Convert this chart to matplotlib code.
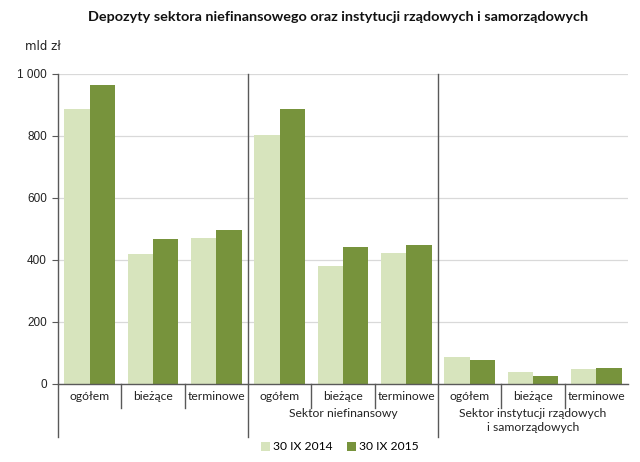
import matplotlib
matplotlib.use("Agg")
import matplotlib.pyplot as plt
from matplotlib.transforms import blended_transform_factory
from matplotlib.patches import Patch

categories = ["ogółem", "bieżące", "terminowe",
              "ogółem", "bieżące", "terminowe",
              "ogółem", "bieżące", "terminowe"]
groups = ["", "Sektor niefinansowy", "Sektor instytucji rządowych\ni samorządowych"]
series_names = ["30 IX 2014", "30 IX 2015"]
values_2014 = [888, 419, 470, 803, 382, 424, 88, 38, 48]
values_2015 = [963, 468, 498, 886, 442, 447, 79, 26, 52]
yticks = [0, 200, 400, 600, 800, 1000]
ytick_labels = ["0", "200", "400", "600", "800", "1 000"]

c_light = "#d7e4bd"
c_dark = "#77933c"
line_c = "#595959"

fig = plt.figure(figsize=(6.4, 4.62), dpi=100)
ax = fig.add_axes([58/640, 78/462, 570/640, 310/462])

x = list(range(len(categories)))
w = 0.4
ax.bar([i - w/2 for i in x], values_2014, width=w, color=c_light, zorder=3)
ax.bar([i + w/2 for i in x], values_2015, width=w, color=c_dark, zorder=3)

ax.set_xlim(-0.5, len(categories) - 0.5)
ax.set_ylim(0, 1000)
ax.set_yticks(yticks)
ax.set_yticklabels(ytick_labels, fontsize=8.5, family="Liberation Sans", color="#222222")
ax.yaxis.grid(True, color="#d9d9d9", linewidth=0.9, zorder=0)
ax.set_axisbelow(True)
ax.tick_params(axis="y", direction="out", length=4, width=0.8, color=line_c, pad=4)
ax.set_xticks([])
for s in ["top", "right", "left"]:
    ax.spines[s].set_visible(False)
ax.spines["bottom"].set_color(line_c)
ax.spines["bottom"].set_linewidth(1.0)
ax.spines["bottom"].set_zorder(4)

tr = blended_transform_factory(ax.transData, ax.transAxes)
low_short = (384 - 408) / 310
low_long = (384 - 437) / 310
for xv in [-0.5, 2.5, 5.5]:
    ax.plot([xv, xv], [1.0, low_long], transform=tr, color=line_c, lw=1.0,
            clip_on=False, zorder=5)
for xv in [0.5, 1.5, 3.5, 4.5, 6.5, 7.5]:
    ax.plot([xv, xv], [0, low_short], transform=tr, color=line_c, lw=1.0,
            clip_on=False, zorder=5)

lab_y = (384 - 396) / 310
for i, c in enumerate(categories):
    ax.text(i, lab_y, c, transform=tr, ha="center", va="center",
            fontsize=8.7, family="Lato", color="#222222")
grp_y = (384 - 408) / 310
for g, name in enumerate(groups):
    if name:
        ax.text(3*g + 1, grp_y, name, transform=tr, ha="center", va="top",
                fontsize=8.7, family="Lato", color="#222222", linespacing=1.3)

fig.text(338/640, 1 - 17/462, "Depozyty sektora niefinansowego oraz instytucji rządowych i samorządowych",
         ha="center", va="center", fontsize=10.4, fontweight="bold", family="Lato", color="#111111")
fig.text(25/640, 1 - 47/462, "mld zł", ha="left", va="center", fontsize=8.5,
         family="Liberation Sans Narrow", color="#222222")

handles = [Patch(facecolor=c_light, edgecolor="none"), Patch(facecolor=c_dark, edgecolor="none")]
fig.legend(handles, series_names, loc="center", bbox_to_anchor=(340/640, 1 - 447/462),
           ncol=2, frameon=False, prop={"family": "Lato", "size": 8.7},
           handlelength=0.7, handleheight=0.7, handletextpad=0.3, columnspacing=1.2)

fig.savefig("out.png", dpi=100, facecolor="white")
